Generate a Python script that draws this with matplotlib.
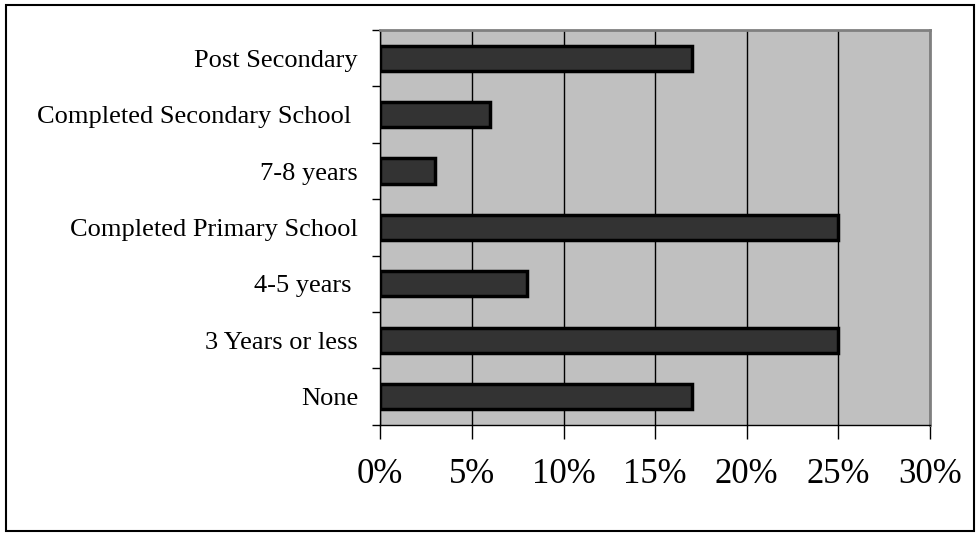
import numpy as np
import matplotlib.pyplot as plt
from matplotlib.patches import Rectangle
from matplotlib.ticker import FixedLocator

# Education level share (bottom to top)
levels = ['None', '3 Years or less', '4-5 years ', 'Completed Primary School',
          '7-8 years', 'Completed Secondary School ', 'Post Secondary']
shares = [17, 25, 8, 25, 3, 6, 17]
xticks = [0, 5, 10, 15, 20, 25, 30]
xticklabels = ['0%', '5%', '10%', '15%', '20%', '25%', '30%']

plt.rcParams['font.family'] = ['Liberation Serif', 'DejaVu Serif']

fig = plt.figure(figsize=(9.8, 5.37), dpi=100)
fig.patches.append(Rectangle((0.006, 0.012), 0.988, 0.978, transform=fig.transFigure,
                             fill=False, edgecolor='black', linewidth=1.5))
ax = fig.add_axes([0.388, 0.209, 0.561, 0.735])
ax.set_facecolor('#c0c0c0')

y = np.arange(len(levels))
ax.barh(y, shares, height=0.45, color='#333333', edgecolor='black', linewidth=2.5, zorder=3)

ax.set_xlim(0, 30)
ax.set_ylim(-0.5, len(levels) - 0.5)
ax.set_xticks(xticks)
ax.set_xticklabels(xticklabels, fontsize=25)
ax.tick_params(axis='x', length=10, width=1, pad=14, color='black')

ax.set_yticks(y)
ax.set_yticklabels(levels, fontsize=19)
ax.yaxis.set_minor_locator(FixedLocator(np.arange(-0.5, len(levels), 1)))
ax.tick_params(axis='y', which='major', length=0, pad=16)
ax.tick_params(axis='y', which='minor', length=6, width=1, color='black')

ax.grid(axis='x', color='black', linewidth=1, zorder=1)
ax.set_axisbelow(True)

for side in ['top', 'right']:
    ax.spines[side].set_color('#808080')
    ax.spines[side].set_linewidth(2)
ax.spines['left'].set_color('black')
ax.spines['left'].set_linewidth(1)
ax.spines['bottom'].set_color('black')
ax.spines['bottom'].set_linewidth(1)

fig.savefig('out.png', dpi=100)
